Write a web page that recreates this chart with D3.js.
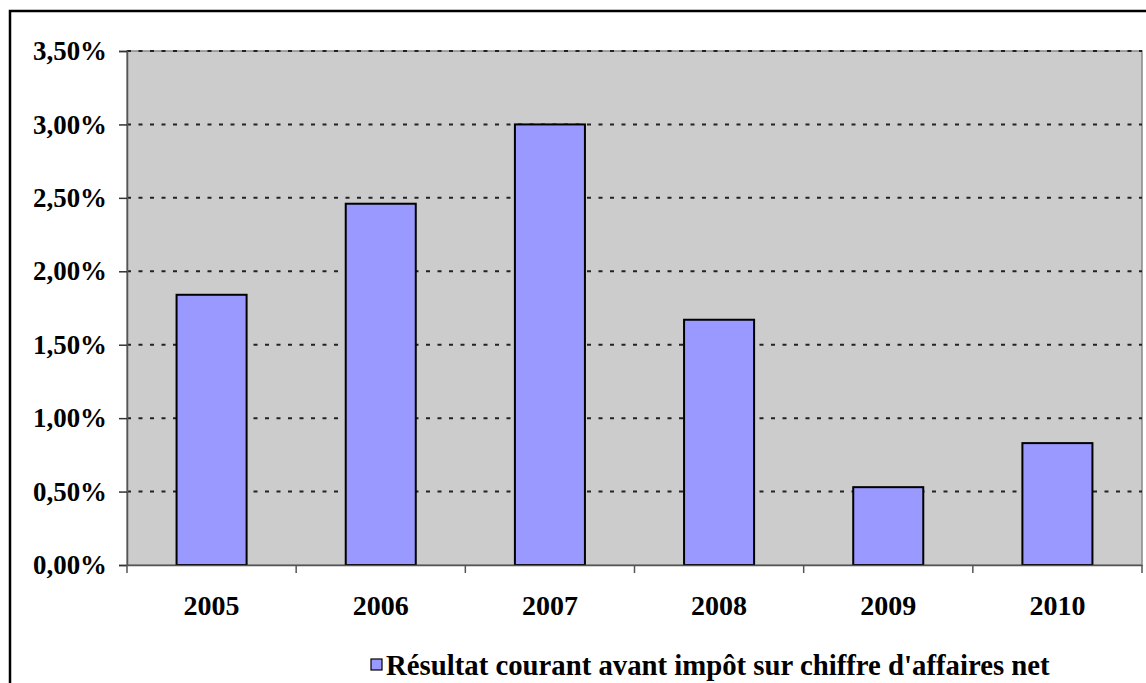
<!DOCTYPE html>
<html><head><meta charset="utf-8">
<script src="https://cdn.jsdelivr.net/npm/d3@7"></script>
<style>body{margin:0;background:#fff;} svg{display:block;}</style>
</head><body>
<svg id="c" width="1146" height="683"></svg>
<script>
const categories = ["2005","2006","2007","2008","2009","2010"];
const values = [1.84, 2.46, 3.00, 1.67, 0.53, 0.83];
const yTicks = [0, 0.5, 1, 1.5, 2, 2.5, 3, 3.5];
const legendLabel = "Résultat courant avant impôt sur chiffre d'affaires net";
const fmt = v => v.toFixed(2).replace(".", ",") + "%";

const svg = d3.select("#c");
const FONT = "'Liberation Serif', 'Times New Roman', serif";
const m = {left:127, right:1142, top:51, bottom:565};

svg.append("rect").attr("x",10).attr("y",11).attr("width",1160).attr("height",700)
  .attr("fill","#fff").attr("stroke","#000").attr("stroke-width",2.5);

const x = d3.scaleBand().domain(categories).range([m.left, m.right]).paddingInner(0.586).paddingOuter(0.293);
const xb = d3.scaleBand().domain(categories).range([m.left, m.right]);
const y = d3.scaleLinear().domain([0, 3.5]).range([m.bottom, m.top]);

svg.append("rect").attr("x",m.left).attr("y",m.top).attr("width",m.right-m.left).attr("height",m.bottom-m.top)
  .attr("fill","#cccccc").attr("stroke","#888").attr("stroke-width",1.5);

svg.append("g").selectAll("line").data(yTicks.filter(d=>d>0)).join("line")
  .attr("x1",m.left).attr("x2",m.right).attr("y1",d=>y(d)).attr("y2",d=>y(d))
  .attr("stroke","#222").attr("stroke-width",2).attr("stroke-dasharray","4,7.5");

svg.append("g").selectAll("rect").data(values).join("rect")
  .attr("x",(d,i)=>x(categories[i])).attr("width",x.bandwidth())
  .attr("y",d=>y(d)).attr("height",d=>y(0)-y(d))
  .attr("fill","#9999ff").attr("stroke","#000").attr("stroke-width",2);

// Y axis
const ya = svg.append("g").attr("transform",`translate(${m.left},0)`)
  .call(d3.axisLeft(y).tickValues(yTicks).tickFormat(fmt).tickSize(8).tickPadding(12));
ya.select(".domain").attr("stroke","#555").attr("stroke-width",1.5);
ya.selectAll(".tick line").attr("stroke","#333").attr("stroke-width",1.5);
ya.selectAll("text").attr("font-family",FONT).attr("font-weight","bold").attr("font-size",23).attr("fill","#000");

// X axis
const xa = svg.append("g").attr("transform",`translate(0,${m.bottom})`)
  .call(d3.axisBottom(xb).tickSize(0).tickPadding(30));
xa.select(".domain").attr("stroke","#555").attr("stroke-width",1.5);
xa.selectAll("text").attr("font-family",FONT).attr("font-weight","bold").attr("font-size",23).attr("fill","#000");
svg.append("g").selectAll("line").data(categories.concat(["end"])).join("line")
  .attr("x1",(d,i)=> i<categories.length ? xb(d) : m.right).attr("x2",(d,i)=> i<categories.length ? xb(d) : m.right)
  .attr("y1",m.bottom).attr("y2",m.bottom+8).attr("stroke","#555").attr("stroke-width",1.5);

// Legend
svg.append("rect").attr("x",371).attr("y",659).attr("width",11).attr("height",11)
  .attr("fill","#9999ff").attr("stroke","#000").attr("stroke-width",1.2);
const lt = svg.append("text").attr("x",386).attr("y",675).text(legendLabel)
  .attr("font-family",FONT).attr("font-weight","bold").attr("font-size",23).attr("fill","#000");

// fit widths to reference
function fit(sel, target){ const w = sel.node().getComputedTextLength(); const fs=+sel.attr("font-size"); sel.attr("font-size", fs*target/w); }
fit(lt, 664);
ya.selectAll("text").each(function(){ fit(d3.select(this), 74); });
xa.selectAll("text").each(function(){ fit(d3.select(this), 56); });
</script>
</body></html>
